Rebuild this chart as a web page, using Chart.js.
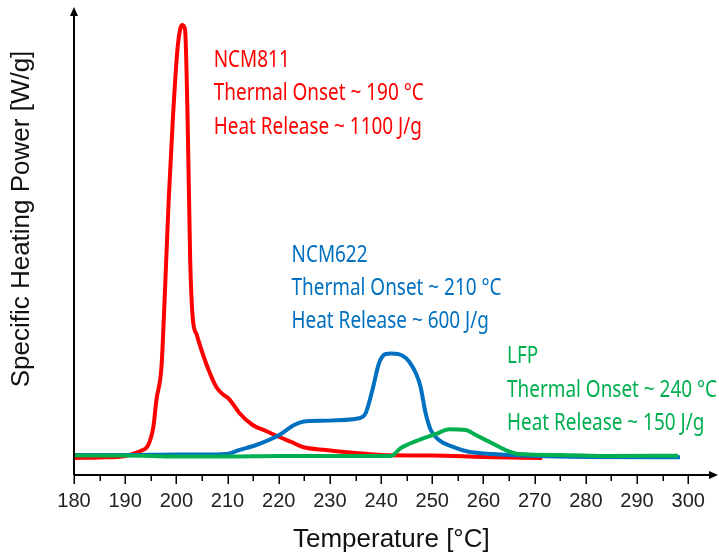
<!DOCTYPE html>
<html>
<head>
<meta charset="utf-8">
<script src="https://cdn.jsdelivr.net/npm/chart.js@4"></script>
<style>
  html, body { margin: 0; padding: 0; background: #fff; }
  #wrap { width: 719px; height: 553px; }
</style>
</head>
<body>
<div id="wrap"><canvas id="dscChart" width="719" height="553"></canvas></div>
<script>
// Temperature [°C] and heat flow (arbitrary units)
const ncm811T = [180, 185, 190, 192, 193, 194.5, 195.5, 196.1, 197.1, 197.7, 198.5, 199.3, 200.2, 200.8, 201.2, 201.7, 202.2, 202.7, 203.2, 204, 204.9, 206.3, 207.8, 209, 210.1, 211.2, 212.3, 214.9, 217.5, 220.1, 222.5, 224.7, 229.2, 235.1, 240, 250, 260, 271.5];
const ncm811Y = [17, 17.5, 19, 22, 24, 30, 48, 75, 109, 175, 275, 355, 425, 447, 450, 445, 355, 215, 157, 140, 125, 105, 88, 81, 77, 70, 62, 50, 44, 38, 33, 28, 25, 22, 20, 19.5, 18, 17];

const ncm622T = [180, 190, 200, 205, 209.7, 212.3, 215.6, 220.1, 223, 224.7, 228.6, 235.7, 237, 238.3, 239.6, 240.9, 242, 244.2, 245.5, 246.8, 247.7, 248.7, 249.7, 251.3, 253.9, 257.1, 261.7, 270, 280, 298.4];
const ncm622Y = [20, 20, 20.5, 20.5, 21, 25, 30, 40, 50, 53.3, 54.3, 56.7, 62, 85, 112, 121, 121.5, 119.3, 113.3, 101.7, 88.3, 61.7, 45, 35, 28.3, 23.3, 21, 19, 18, 17.7];

const lfpT = [180, 190, 200, 210, 220, 230, 241.9, 243.8, 247.4, 250.7, 253.3, 256.5, 258.5, 261.7, 264.3, 266.9, 275, 285, 298];
const lfpY = [19.5, 19.5, 18.5, 18.5, 19, 19, 19, 26.7, 35, 41, 45.7, 45, 40, 31.7, 25, 21, 20, 19, 19.3];

const xTicks = [180, 190, 200, 210, 220, 230, 240, 250, 260, 270, 280, 290, 300];

// annotation text blocks: [T, y of first baseline, colour, lines]
const notes = [
  { x: 207.3, y: 408, color: '#ff0000', lines: ['NCM811', 'Thermal Onset ~ 190 °C', 'Heat Release ~ 1100 J/g'] },
  { x: 222.5, y: 213.5, color: '#0070c0', lines: ['NCM622', 'Thermal Onset ~ 210 °C', 'Heat Release ~ 600 J/g'] },
  { x: 264.6, y: 111.7, color: '#00b050', lines: ['LFP', 'Thermal Onset ~ 240 °C', 'Heat Release ~ 150 J/g'] }
];

const toPoints = (xs, ys) => xs.map((x, i) => ({ x: x, y: ys[i] }));

const axisFont = '"Liberation Sans", Arial, sans-serif';
const noteFont = '"Noto Sans", "Open Sans", sans-serif';

// axes with arrows, tick marks, y title and the annotation text
const decorPlugin = {
  id: 'decor',
  afterDraw(chart) {
    const ctx = chart.ctx;
    const xs = chart.scales.x, ys = chart.scales.y;
    const left = chart.chartArea.left, bottom = chart.chartArea.bottom;
    ctx.save();
    ctx.strokeStyle = '#000';
    ctx.fillStyle = '#000';
    ctx.lineWidth = 2;
    ctx.beginPath();
    ctx.moveTo(left, bottom);
    ctx.lineTo(left, 14);
    ctx.moveTo(left, bottom);
    ctx.lineTo(711, bottom);
    ctx.stroke();
    ctx.beginPath();
    ctx.moveTo(left, 7); ctx.lineTo(left - 4, 16); ctx.lineTo(left + 4, 16); ctx.closePath();
    ctx.fill();
    ctx.beginPath();
    ctx.moveTo(718, bottom); ctx.lineTo(709, bottom - 4); ctx.lineTo(709, bottom + 4); ctx.closePath();
    ctx.fill();
    // tick marks
    ctx.lineWidth = 1.5;
    ctx.beginPath();
    for (let v = 180; v <= 300; v += 5) {
      const px = Math.round(xs.getPixelForValue(v)) + 0.25;
      const len = v % 10 === 0 ? 9 : 6;
      ctx.moveTo(px, bottom);
      ctx.lineTo(px, bottom + len);
    }
    ctx.stroke();
    // y title
    ctx.translate(29, 219);
    ctx.rotate(-Math.PI / 2);
    ctx.font = '26px ' + axisFont;
    ctx.fillStyle = '#111';
    ctx.textAlign = 'center';
    ctx.textBaseline = 'alphabetic';
    ctx.fillText('Specific Heating Power [W/g]', 0, 0);
    ctx.restore();

    // labels, squeezed sideways to look like the condensed face of the original
    ctx.save();
    ctx.font = '23px ' + noteFont;
    ctx.textAlign = 'left';
    ctx.textBaseline = 'alphabetic';
    notes.forEach(n => {
      const px = xs.getPixelForValue(n.x);
      const py = ys.getPixelForValue(n.y);
      const sx = 210 / ctx.measureText(n.lines[1]).width;
      ctx.fillStyle = n.color;
      n.lines.forEach((t, i) => {
        ctx.save();
        ctx.translate(px, py + i * 33.3);
        ctx.scale(sx, 1);
        ctx.fillText(t, 0, 0);
        ctx.restore();
      });
    });
    ctx.restore();
  }
};

const ctxDsc = document.getElementById('dscChart').getContext('2d');

const dscChart = new Chart(ctxDsc, {
  type: 'line',
  data: {
    datasets: [
      { label: 'LFP', data: toPoints(lfpT, lfpY), borderColor: '#00b050' },
      { label: 'NCM622', data: toPoints(ncm622T, ncm622Y), borderColor: '#0070c0' },
      { label: 'NCM811', data: toPoints(ncm811T, ncm811Y), borderColor: '#ff0000' }
    ]
  },
  options: {
    responsive: false,
    animation: false,
    events: [],
    layout: { padding: { left: 74, right: 3, top: 10, bottom: 0 } },
    elements: {
      line: { borderWidth: 4, cubicInterpolationMode: 'monotone', fill: false },
      point: { radius: 0 }
    },
    plugins: { legend: { display: false }, tooltip: { enabled: false } },
    scales: {
      x: {
        type: 'linear',
        min: 180,
        max: 304,
        grid: { display: false, drawTicks: false },
        border: { display: false },
        afterBuildTicks: (axis) => { axis.ticks = xTicks.map(v => ({ value: v })); },
        ticks: {
          autoSkip: false,
          maxRotation: 0,
          padding: 14,
          color: '#222',
          font: { family: axisFont, size: 20 },
          callback: (v) => String(v)
        },
        title: {
          display: true,
          text: 'Temperature [°C]',
          color: '#111',
          font: { family: axisFont, size: 26, lineHeight: 1 },
          padding: { top: 0, bottom: 0 }
        }
      },
      y: {
        display: false,
        min: 0,
        max: 465
      }
    }
  },
  plugins: [decorPlugin]
});
</script>
</body>
</html>
